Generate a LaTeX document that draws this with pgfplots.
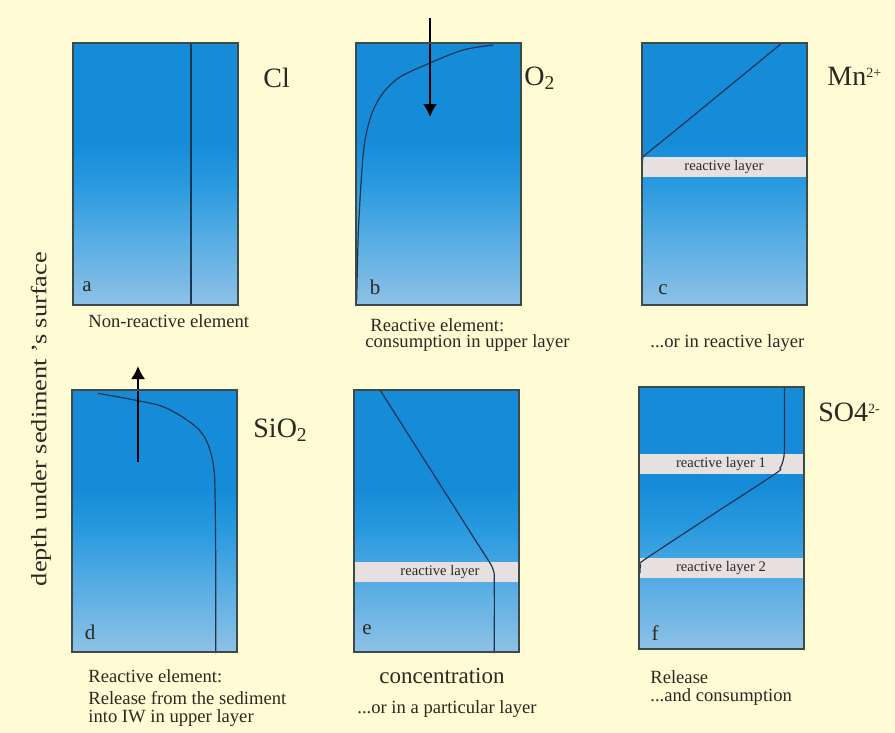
\documentclass[border=0pt]{standalone}
\usepackage{pgfplots}
\pgfplotsset{compat=1.18}
\usepackage{fontspec}
\setmainfont{Liberation Serif}
\usetikzlibrary{arrows.meta}
\definecolor{bg}{HTML}{FFFBD4}
\definecolor{bordercol}{HTML}{3D4A48}
\definecolor{curvecol}{HTML}{1C3550}
\definecolor{layercol}{HTML}{E6E1E0}
\definecolor{textcol}{HTML}{2B2A22}
\definecolor{blueTop}{HTML}{168CD8}
\definecolor{blueMid}{HTML}{2A9ADF}
\definecolor{blueLow}{HTML}{5AAEE3}
\definecolor{blueBot}{HTML}{8EC1E6}
\pgfdeclareverticalshading{panelshade}{100bp}{color(0bp)=(blueBot); color(25bp)=(blueBot); color(37bp)=(blueLow); color(48bp)=(blueMid); color(56bp)=(blueTop); color(75bp)=(blueTop); color(100bp)=(blueTop)}
\pgfplotsset{panel/.style={width=82.5pt, height=131pt, scale only axis,
  xmin=0, xmax=165, ymin=0, ymax=262, y dir=reverse,
  xtick=\empty, ytick=\empty, axis on top, clip=false,
  axis line style={draw=bordercol, line width=1pt},
  axis background/.style={shading=panelshade},
  anchor=north west},
  curve/.style={draw=curvecol, line width=0.6pt, no markers},
  layer/.style={fill=layercol, draw=none, no markers},
  arr/.style={-{Latex[length=6.5pt,width=7pt]}, line width=0.9pt, black, no markers}}
\newcommand{\capf}{\fontsize{9.3}{11}\selectfont}
\newcommand{\layf}{\fontsize{7.3}{8}\selectfont}
\newcommand{\letf}{\fontsize{10.5}{12}\selectfont}
\newcommand{\elemf}{\fontsize{14}{16}\selectfont}
\begin{document}
\begin{tikzpicture}[x=0.5pt,y=-0.5pt]
\useasboundingbox (0,0) rectangle (895,733);
\fill[bg] (0,0) rectangle (895,733);
% panel a
\begin{axis}[panel, at={(73,43)}]
\addplot[curve] coordinates {(118,0) (118,262)};
\node[anchor=center, text=textcol] at (axis cs:14,244) {\letf a};
\end{axis}
% panel b
\begin{axis}[panel, at={(356,43)}]
\addplot[curve, smooth, tension=0.5] coordinates {(137,2) (107,7) (74,20) (44,34) (27,50) (16,70) (9,97) (5.7,130) (2.3,190) (0.7,257)};
\addplot[arr] coordinates {(74,-25) (74,74)};
\node[anchor=center, text=textcol] at (axis cs:19,244) {\letf b};
\end{axis}
% panel c
\begin{axis}[panel, at={(642,43)}]
\addplot[layer] coordinates {(0,114) (165,114) (165,134) (0,134)};
\addplot[curve, smooth, tension=0.5] coordinates {(140,0) (40,82) (3,112) (0.8,115) (0.4,119)};
\node[text=textcol] at (axis cs:82,124) {\layf reactive layer};
\node[anchor=center, text=textcol] at (axis cs:21,247) {\letf c};
\end{axis}
% panel d
\begin{axis}[panel, at={(72,390)}]
\addplot[curve, smooth, tension=0.6] coordinates {(26,3.3) (66,10.7) (91,16.7) (115,30) (130,43.3) (138,60) (142,80) (143,103) (143.7,170) (143.7,263)};
\addplot[arr] coordinates {(66,72) (66,-24)};
\node[anchor=center, text=textcol] at (axis cs:18,242) {\letf d};
\end{axis}
% panel e
\begin{axis}[panel, at={(354,390)}]
\addplot[layer] coordinates {(0,172) (165,172) (165,192) (0,192)};
\addplot[curve, smooth, tension=0.5] coordinates {(26,0) (120,148) (136,173) (139.5,181) (140.3,191) (140.3,263)};
\node[text=textcol] at (axis cs:86,182) {\layf reactive layer};
\node[anchor=center, text=textcol] at (axis cs:13,240) {\letf e};
\end{axis}
% panel f
\begin{axis}[panel, at={(639,387)}]
\addplot[layer] coordinates {(0,67) (165,67) (165,87) (0,87)};
\addplot[layer] coordinates {(0,171) (165,171) (165,191) (0,191)};
\addplot[curve, smooth, tension=0.5] coordinates {(145.5,0) (145.5,60) (144,74) (141,81) (136,87) (70,130) (5,173) (1.5,178) (1,186)};
\node[text=textcol] at (axis cs:82,77) {\layf reactive layer 1};
\node[text=textcol] at (axis cs:82,181) {\layf reactive layer 2};
\node[anchor=center, text=textcol] at (axis cs:16,246) {\letf f};
\end{axis}
% element labels
\node[anchor=west, text=textcol, inner sep=0pt] at (263,78) {\elemf Cl};
\node[anchor=west, text=textcol, inner sep=0pt] at (524,78) {\elemf O\textsubscript{2}};
\node[anchor=west, text=textcol, inner sep=0pt] at (827,76) {\elemf Mn{\fontsize{10}{10}\selectfont\textsuperscript{2+}}};
\node[anchor=west, text=textcol, inner sep=0pt] at (253,430) {\elemf SiO\textsubscript{2}};
\node[anchor=west, text=textcol, inner sep=0pt] at (818,412) {\elemf SO4{\fontsize{10}{10}\selectfont\textsuperscript{2-}}};
% captions
\node[anchor=west, text=textcol, inner sep=0pt] at (88,321) {\capf Non-reactive element};
\node[anchor=west, text=textcol, inner sep=0pt] at (370,325) {\capf Reactive element:};
\node[anchor=west, text=textcol, inner sep=0pt] at (365,343) {\capf consumption in upper layer};
\node[anchor=west, text=textcol, inner sep=0pt] at (650,343) {\capf ...or in reactive layer};
\node[anchor=west, text=textcol, inner sep=0pt] at (88,676) {\capf Reactive element:};
\node[anchor=west, text=textcol, inner sep=0pt] at (88,698) {\capf Release from the sediment};
\node[anchor=west, text=textcol, inner sep=0pt] at (88,718) {\capf into IW in upper layer};
\node[anchor=center, text=textcol, inner sep=0pt] at (442,676) {\fontsize{11.5}{13}\selectfont concentration};
\node[anchor=west, text=textcol, inner sep=0pt] at (357,709) {\capf ...or in a particular layer};
\node[anchor=west, text=textcol, inner sep=0pt] at (650,677) {\capf Release};
\node[anchor=west, text=textcol, inner sep=0pt] at (650,697) {\capf ...and consumption};
% y label
\node[rotate=90, text=textcol, inner sep=0pt] at (41,419) {\scalebox{1.2}[1]{\fontsize{11}{13}\selectfont depth under sediment 's surface}};
\end{tikzpicture}
\end{document}
